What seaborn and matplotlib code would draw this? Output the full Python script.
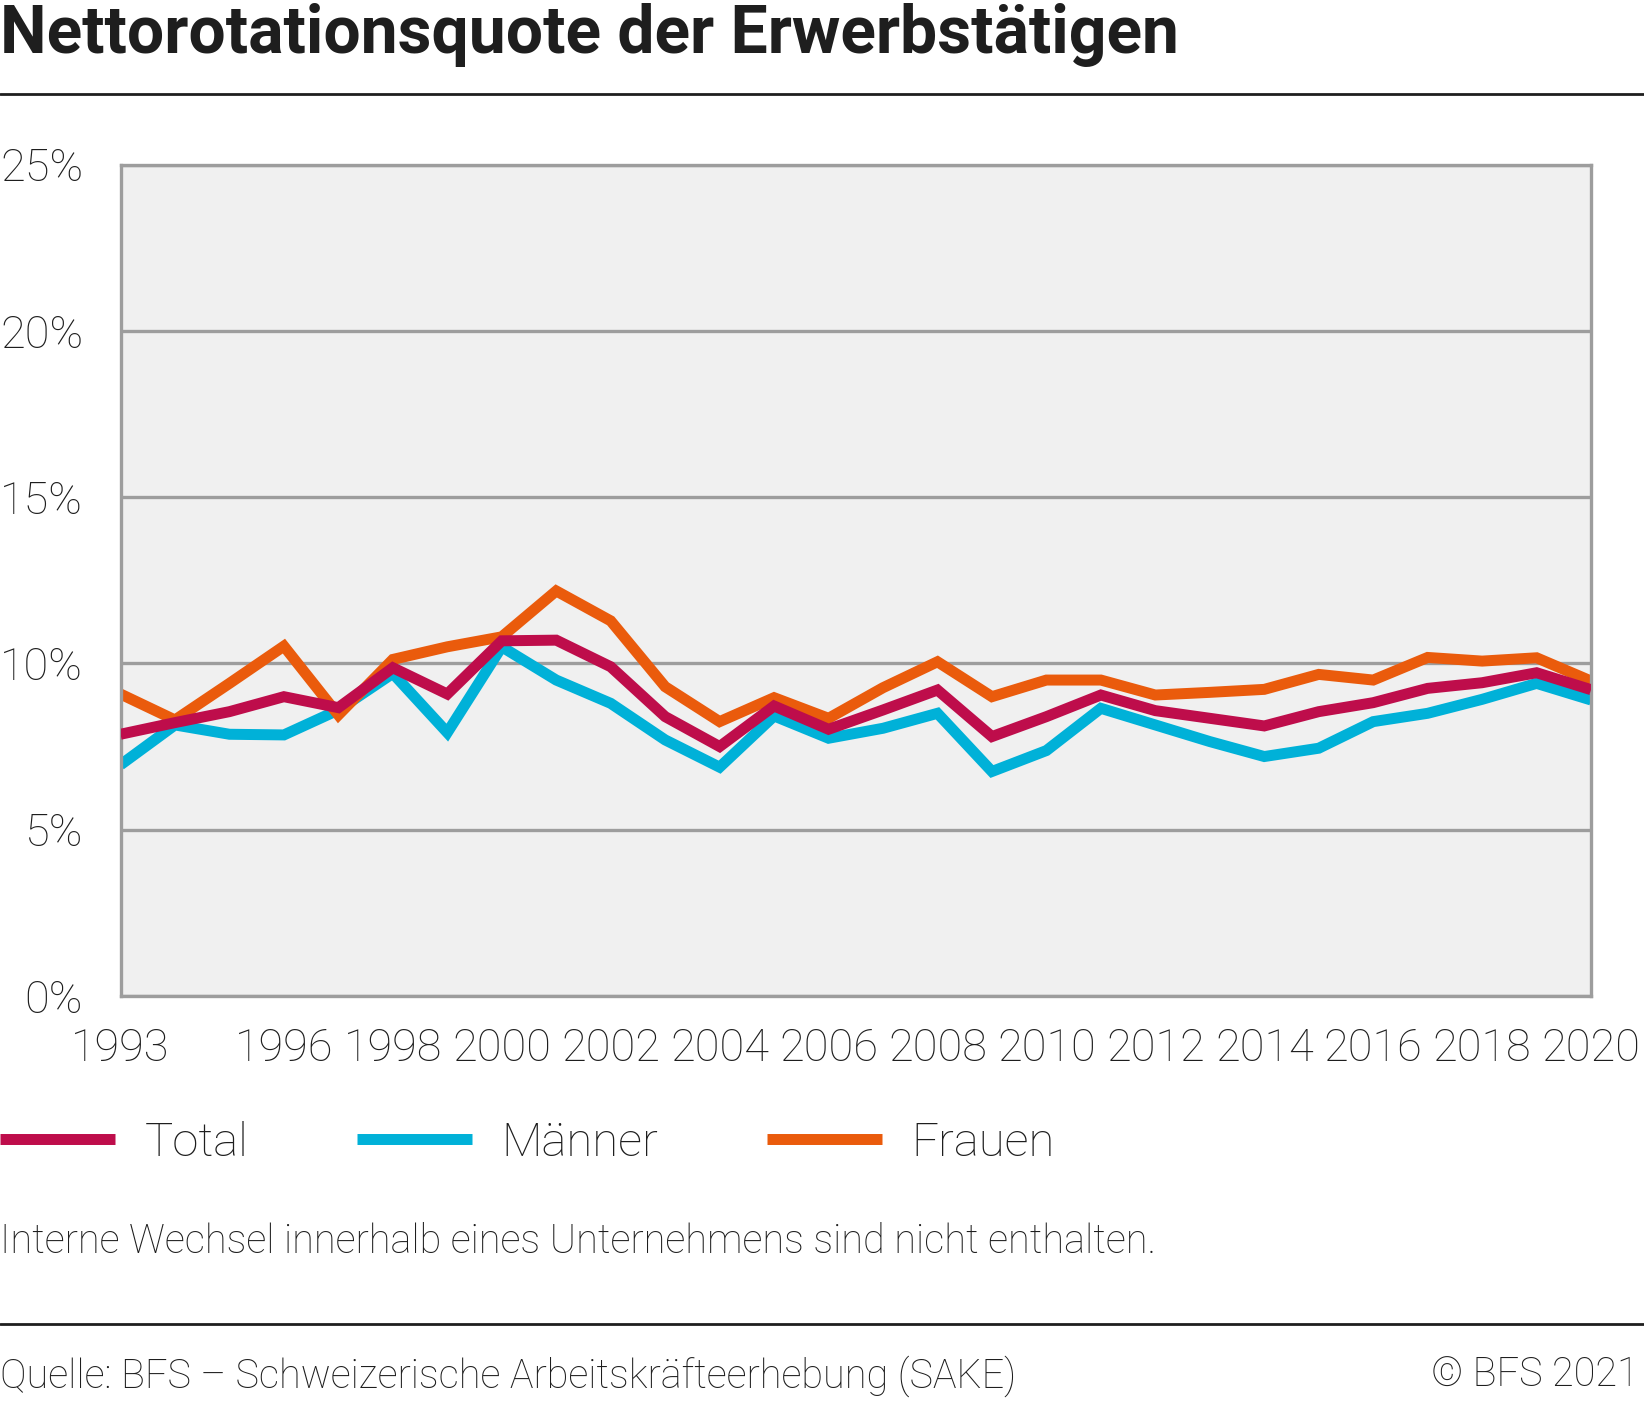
import matplotlib
matplotlib.use("Agg")
import matplotlib.pyplot as plt
import seaborn as sns
import pandas as pd

years = list(range(1993, 2021))
total = [7.87, 8.22, 8.55, 9.0, 8.67, 9.87, 9.08, 10.68, 10.70, 9.9,
         8.4, 7.5, 8.72, 8.02, 8.6, 9.2, 7.8, 8.4, 9.05, 8.58,
         8.35, 8.12, 8.55, 8.82, 9.25, 9.42, 9.72, 9.21]
maenner = [6.95, 8.15, 7.87, 7.85, 8.6, 9.7, 7.92, 10.5, 9.5, 8.8,
           7.7, 6.88, 8.42, 7.75, 8.05, 8.5, 6.75, 7.38, 8.65, 8.15,
           7.65, 7.2, 7.45, 8.25, 8.5, 8.92, 9.4, 8.9]
frauen = [9.08, 8.3, 9.4, 10.52, 8.45, 10.12, 10.5, 10.8, 12.18, 11.28,
          9.3, 8.25, 8.97, 8.35, 9.27, 10.05, 9.0, 9.5, 9.5, 9.05,
          9.13, 9.22, 9.67, 9.5, 10.18, 10.07, 10.17, 9.47]
series_names = ["Total", "Männer", "Frauen"]
colors = ["#be0d4b", "#00b1d8", "#ea5b0c"]
y_ticks = [0, 5, 10, 15, 20, 25]
x_labels = [1993, 1996, 1998, 2000, 2002, 2004, 2006, 2008, 2010,
            2012, 2014, 2016, 2018, 2020]

df = pd.concat([
    pd.DataFrame({"year": years, "value": total, "series": "Total"}),
    pd.DataFrame({"year": years, "value": maenner, "series": "Männer"}),
    pd.DataFrame({"year": years, "value": frauen, "series": "Frauen"}),
], ignore_index=True)

sns.set_style("white")
plt.rcParams["font.family"] = ["Roboto", "DejaVu Sans"]
plt.rcParams["font.weight"] = "light"
grey = "#9d9d9d"
txt = "#1e1e1e"

fig = plt.figure(figsize=(16.44, 14.01), dpi=100)
ax = fig.add_axes([0.0733, 0.2891, 0.8945, 0.5934])
ax.set_facecolor("#f0f0f0")

sns.lineplot(data=df, x="year", y="value", hue="series", hue_order=series_names,
             palette=colors, linewidth=7.9, ax=ax,
             solid_joinstyle="miter", solid_capstyle="butt")
ax.lines[0].set_zorder(4)

ax.set_xlim(1993, 2020)
ax.set_ylim(0, 25)
ax.set_xlabel("")
ax.set_ylabel("")
ax.set_yticks(y_ticks)
ax.set_yticklabels([f"{v}%" for v in y_ticks])
ax.set_xticks(years)
ax.set_xticklabels([str(y) if y in x_labels else "" for y in years])
ax.grid(axis="y", color=grey, linewidth=2.4)
ax.set_axisbelow(True)
for s in ax.spines.values():
    s.set_color(grey)
    s.set_linewidth(2.4)
ax.tick_params(axis="y", length=6, width=2.4, color=grey, pad=21,
               labelsize=32.5, labelcolor=txt)
ax.tick_params(axis="x", length=6.5, width=2.4, color=grey, pad=16,
               labelsize=32.5, labelcolor=txt)
for y, t in zip(years, ax.xaxis.get_major_ticks()):
    if y % 2 == 0:
        t.tick1line.set_markersize(11)

sns.move_legend(ax, "center left", bbox_to_anchor=(0.0, 1 - 1143 / 1401),
                bbox_transform=fig.transFigure, ncol=3, frameon=False,
                title=None, fontsize=34, handlelength=2.44, handletextpad=0.62,
                columnspacing=2.3, borderaxespad=0, borderpad=0)
for h in ax.get_legend().legend_handles:
    h.set_linewidth(7.9)
for t in ax.get_legend().get_texts():
    t.set_color(txt)

fig.text(0.0, 1 - 35 / 1401, "Nettorotationsquote der Erwerbstätigen",
         fontsize=47.5, fontweight="bold", color=txt, va="center", ha="left")
fig.add_artist(plt.Line2D([0, 1], [1 - 94 / 1401] * 2, color=txt, linewidth=2))
fig.text(0.0, 1 - 1242 / 1401,
         "Interne Wechsel innerhalb eines Unternehmens sind nicht enthalten.",
         fontsize=28.5, color=txt, va="center", ha="left")
fig.add_artist(plt.Line2D([0, 1], [1 - 1324 / 1401] * 2, color=txt, linewidth=2))
fig.text(0.0, 1 - 1376 / 1401,
         "Quelle: BFS – Schweizerische Arbeitskräfteerhebung (SAKE)",
         fontsize=28.5, color=txt, va="center", ha="left")
fig.text(0.997, 1 - 1376 / 1401, "© BFS 2021",
         fontsize=28.5, color=txt, va="center", ha="right")

fig.savefig("out.png", dpi=100)
